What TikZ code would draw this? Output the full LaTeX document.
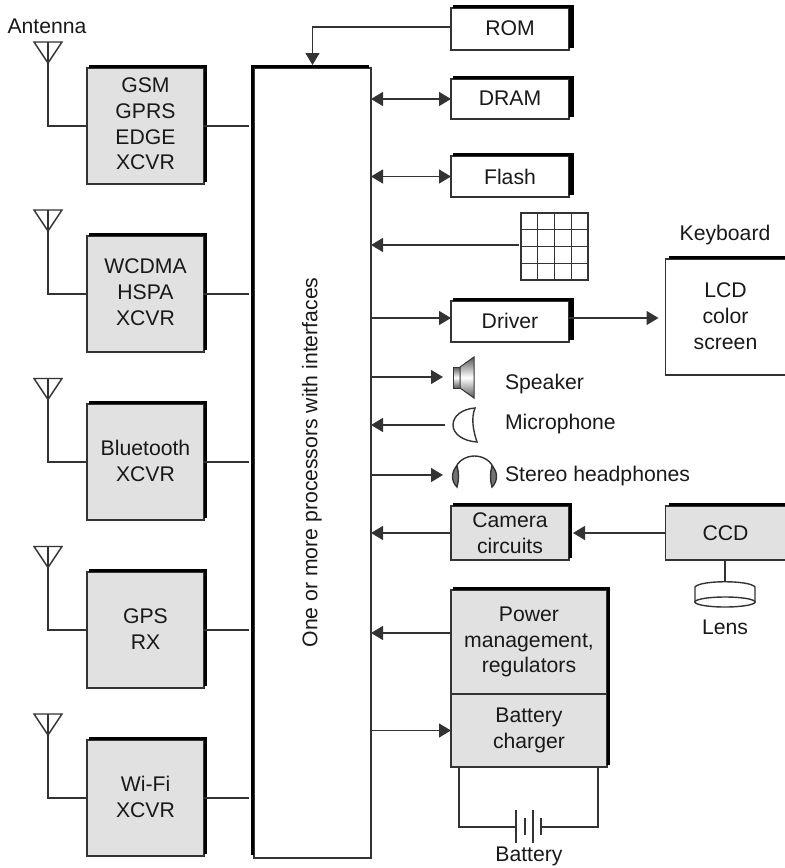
\documentclass[tikz,border=0pt]{standalone}
\usepackage{fontspec}
\setmainfont{Liberation Sans}
\usetikzlibrary{arrows.meta}
\definecolor{boxgray}{HTML}{E1E1E1}
\definecolor{wiregray}{HTML}{333333}
\tikzset{
  label text/.style={inner sep=0pt, outer sep=0pt, align=center, text=black!90, font=\fontsize{10.6}{12.85}\selectfont},
  whitebox/.style={label text, draw=wiregray, line width=0.7pt, fill=white, minimum width=59pt},
  graybox/.style={whitebox, fill=boxgray},
  block/.style={graybox, minimum width=58.5pt, minimum height=58pt, text depth=1pt},
  wire/.style={draw=wiregray, line width=0.7pt},
  arr/.style={wire, -{Triangle[length=6pt,width=7pt]}},
  darr/.style={wire, {Triangle[length=6pt,width=7pt]}-{Triangle[length=6pt,width=7pt]}},
  antenna/.pic={
    \draw[wire, fill=white] (-14,0) -- (14,0) -- (0,21) -- cycle;
    \draw[wire] (0,0) -- (0,21);
  }
}
% black bars along the top and the right of a box
\newcommand{\barsTR}[2]{
  \fill[black] ([xshift=1pt]#1.north west) rectangle ([xshift=#2,yshift=1.5pt]#1.north east);
  \fill[black] ([yshift=1pt]#1.south east) rectangle ([xshift=#2,yshift=1.5pt]#1.north east);
}
\begin{document}
\begin{tikzpicture}[x=0.5pt, y=-0.5pt]
    \useasboundingbox (0,0) rectangle (784,868);

    % Processor
    \node[whitebox, minimum width=58.5pt, minimum height=395pt] (proc) at (312.5,463) {};
    \node[label text, rotate=90] (proctext) at (312,462.5) {One or more processors with interfaces};
    \fill[black] ([xshift=-1.5pt,yshift=1.5pt]proc.north west) rectangle ([xshift=-1pt]proc.north east);
    \fill[black] ([xshift=-1.5pt,yshift=1.5pt]proc.north west) rectangle ([yshift=1.5pt]proc.south west);

    % Radio blocks
    \node[block, text depth=2pt] (gsm) at (145.5,126) {GSM\\GPRS\\EDGE\\XCVR};
    \node[block, text depth=2pt] (wcdma) at (145.5,294) {WCDMA\\HSPA\\XCVR};
    \node[block] (bt) at (145.5,462) {Bluetooth\\XCVR};
    \node[block] (gps) at (145.5,630) {GPS\\RX};
    \node[block] (wifi) at (145.5,798) {Wi-Fi\\XCVR};
    \barsTR{gsm}{1.5pt}
    \barsTR{wcdma}{1.5pt}
    \barsTR{bt}{1.5pt}
    \barsTR{gps}{1.5pt}
    \barsTR{wifi}{1.5pt}

    % Antennas
    \node[label text] (anttext) at (47,26) {Antenna};
    \coordinate (ant1) at (48,42);
    \coordinate (ant2) at (48,210);
    \coordinate (ant3) at (48,378.5);
    \coordinate (ant4) at (48,546.5);
    \coordinate (ant5) at (48,714);
    \pic at (ant1) {antenna};
    \pic at (ant2) {antenna};
    \pic at (ant3) {antenna};
    \pic at (ant4) {antenna};
    \pic at (ant5) {antenna};
    \draw[wire] (ant1) |- (gsm.west);
    \draw[wire] (ant2) |- (wcdma.west);
    \draw[wire] (ant3) |- (bt.west);
    \draw[wire] (ant4) |- (gps.west);
    \draw[wire] (ant5) |- (wifi.west);

    % Radio blocks to processor
    \draw[wire] (gsm.east) -- ([xshift=-2.5pt]proc.west |- gsm.east);
    \draw[wire] (wcdma.east) -- ([xshift=-2.5pt]proc.west |- wcdma.east);
    \draw[wire] (bt.east) -- ([xshift=-2.5pt]proc.west |- bt.east);
    \draw[wire] (gps.east) -- ([xshift=-2.5pt]proc.west |- gps.east);
    \draw[wire] (wifi.east) -- ([xshift=-2.5pt]proc.west |- wifi.east);

    % Memories
    \node[whitebox, minimum height=21pt, text depth=1pt] (rom) at (510,29) {ROM};
    \node[whitebox, minimum height=20pt, text depth=1pt] (dram) at (510,99) {DRAM};
    \node[whitebox, minimum height=20.5pt] (flash) at (510,176.5) {Flash};
    \barsTR{rom}{2.5pt}
    \barsTR{dram}{2.5pt}
    \barsTR{flash}{2.5pt}
    \coordinate (romout) at ([yshift=1pt]rom.west);
    \draw[arr, shorten >=1.5pt] (romout) -| (proc.north);
    \draw[darr] (proc.east |- dram.west) -- (dram.west);
    \draw[darr] (proc.east |- flash.west) -- (flash.west);

    % Keypad
    \node[draw=wiregray, line width=0.7pt, inner sep=0pt, outer sep=0pt, minimum size=33.5pt] (kbd) at (554.5,246.5) {};
    \foreach \i in {1,2,3} {
        \draw[wire] (521+\i*16.75,213) -- (521+\i*16.75,280);
        \draw[wire] (521,213+\i*16.75) -- (588,213+\i*16.75);
    }
    \coordinate (kbdout) at (519,245);
    \draw[arr] (kbdout) -- (proc.east |- kbdout);

    % Driver and screen
    \node[whitebox, minimum height=20.5pt, text depth=1pt] (driver) at (510,321.5) {Driver};
    \barsTR{driver}{2.5pt}
    \node[whitebox, minimum width=60pt, minimum height=58pt, text depth=1pt] (lcd) at (725.5,317) {LCD\\color\\screen};
    \fill[black] ([xshift=1.5pt]lcd.north west) rectangle ([yshift=1.5pt]lcd.north east);
    \node[label text] (kbdtext) at (725,235) {Keyboard};
    \coordinate (drvin) at ([yshift=1.75pt]driver.west);
    \draw[arr] (proc.east |- drvin) -- (drvin);
    \draw[arr] (drvin -| driver.east) -- ([xshift=-3.5pt]lcd.west |- drvin);

    % Speaker
    \coordinate (spkin) at (443,377);
    \draw[arr] (proc.east |- spkin) -- (spkin);
    \shade[top color=black!65, bottom color=black!65, middle color=white, draw=wiregray, line width=0.5pt] (453,367) rectangle (460,388);
    \shade[top color=black!65, bottom color=black!65, middle color=white, draw=wiregray, line width=0.5pt] (460,367) -- (474,357) -- (474,398) -- (460,388) -- cycle;
    \node[label text, anchor=west] (spktext) at (505,384) {Speaker};

    % Microphone
    \coordinate (micout) at (445,425);
    \draw[arr] (micout) -- (proc.east |- micout);
    \draw[wire] (475,408) .. controls (462,409) and (453,416) .. (453,425) .. controls (453,434) and (463,441) .. (477,442) .. controls (473,430) and (471,418) .. (475,408) -- cycle;
    \node[label text, anchor=west] (mictext) at (505,424) {Microphone};

    % Stereo headphones
    \coordinate (hpin) at (443,475);
    \draw[arr] (proc.east |- hpin) -- (hpin);
    \draw[wire] (455,470) .. controls (457,461) and (466,456) .. (474.5,456) .. controls (483,456) and (492,461) .. (494,470);
    \draw[wire, fill=black!55] (457,466) .. controls (451,472) and (451,481) .. (457,487) .. controls (459,480) and (459,473) .. (457,466) -- cycle;
    \draw[wire, fill=black!55] (492,466) .. controls (498,472) and (498,481) .. (492,487) .. controls (490,480) and (490,473) .. (492,466) -- cycle;
    \node[label text, anchor=west] (hptext) at (505,476) {Stereo headphones};

    % Camera
    \node[graybox, minimum height=27pt] (camera) at (510,533) {Camera\\circuits};
    \node[graybox, minimum width=60pt, minimum height=27pt] (ccd) at (725.5,533) {CCD};
    \barsTR{camera}{1.5pt}
    \fill[black] ([xshift=1.5pt]ccd.north west) rectangle ([yshift=1.5pt]ccd.north east);
    \draw[arr] (camera.west) -- (proc.east |- camera.west);
    \draw[arr] (ccd.west) -- ([xshift=2pt]camera.east);

    % Lens
    \coordinate (lenstop) at (725,582);
    \draw[wire] (725,560) -- (lenstop);
    \draw[wire] (695,603) -- (695,587) .. controls (700,580) and (750,580) .. (755,587) -- (755,603);
    \draw[wire] (725,602) ellipse (30 and 5);
    \node[label text] (lenstext) at (725,627) {Lens};

    % Power management and charger
    \node[graybox, minimum width=78pt, minimum height=52pt] (power) at (529,642) {Power\\management,\\regulators};
    \node[graybox, minimum width=78pt, minimum height=36.5pt] (charger) at (529,730.5) {Battery\\charger};
    \fill[black] ([xshift=1pt]power.north west) rectangle ([xshift=1.5pt,yshift=1.5pt]power.north east);
    \fill[black] ([yshift=1pt]charger.south east) rectangle ([xshift=1.5pt,yshift=1.5pt]power.north east);
    \coordinate (pwrout) at (451,633);
    \draw[arr] (pwrout) -- (proc.east |- pwrout);
    \draw[arr] (proc.east |- charger.west) -- (charger.west);

    % Battery
    \coordinate (batl) at (516,827);
    \coordinate (batr) at (541,827);
    \draw[wire] ([xshift=-35pt]charger.south) |- (batl);
    \draw[wire] ([xshift=34.5pt]charger.south) |- (batr);
    \draw[wire] (516,810) -- (516,843);
    \draw[wire] (525,818) -- (525,835);
    \draw[wire] (533,810) -- (533,843);
    \draw[wire] (541,818) -- (541,835);
    \node[label text] (battext) at (529,856) {Battery};
\end{tikzpicture}
\end{document}
